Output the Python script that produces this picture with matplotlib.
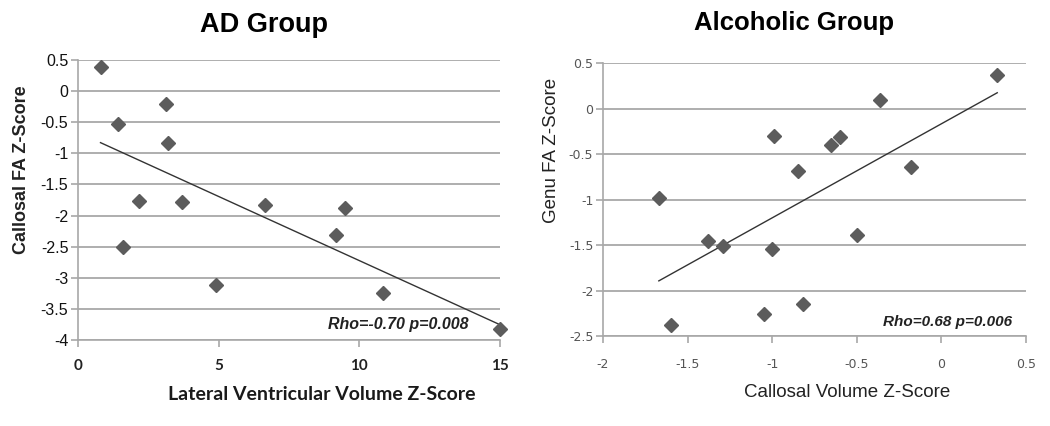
import numpy as np
import matplotlib
matplotlib.use("Agg")
import matplotlib.pyplot as plt

plt.rcParams["font.family"] = ["Liberation Sans", "DejaVu Sans"]

# AD group data
ad_x = [0.8, 1.42, 3.13, 3.2, 2.18, 3.68, 1.59, 4.9, 6.63, 9.5, 9.18, 10.84, 15.0]
ad_y = [0.38, -0.53, -0.21, -0.84, -1.76, -1.79, -2.51, -3.11, -1.83, -1.88, -2.32, -3.24, -3.83]
ad_xticks = [0, 5, 10, 15]
ad_yticks = [0.5, 0, -0.5, -1, -1.5, -2, -2.5, -3, -3.5, -4]

# Alcoholic group data
al_x = [0.33, -0.36, -0.99, -0.60, -0.65, -0.85, -0.18, -1.67, -1.38, -1.29, -1.0, -0.5, -0.82, -1.05, -1.6]
al_y = [0.37, 0.10, -0.30, -0.31, -0.40, -0.69, -0.64, -0.98, -1.45, -1.51, -1.54, -1.39, -2.15, -2.26, -2.38]
al_xticks = [-2, -1.5, -1, -0.5, 0, 0.5]
al_yticks = [0.5, 0, -0.5, -1, -1.5, -2, -2.5]

W, H = 1050, 426
fig = plt.figure(figsize=(10.5, 4.26), dpi=100)
ax1 = fig.add_axes([78 / W, 1 - 340 / H, 422 / W, 280 / H])
ax2 = fig.add_axes([603 / W, 1 - 336 / H, 423 / W, 272.7 / H])

mcol = "#5c5c5c"
gcol = "#a8a8a8"


def fmt(v):
    return "%g" % v


def style(ax, xt, yt):
    for s in ["top", "right"]:
        ax.spines[s].set_visible(False)
    for s in ["left", "bottom"]:
        ax.spines[s].set_color(gcol)
        ax.spines[s].set_linewidth(1.2)
    ax.set_xticks(xt)
    ax.set_yticks(yt)
    ax.tick_params(axis="both", direction="out", length=5, color=gcol, width=1.2)
    for v in yt:
        ax.axhline(v, color=gcol, lw=1.3, zorder=0)


# Left panel
ax1.set_xlim(0, 15)
ax1.set_ylim(-4, 0.5)
style(ax1, ad_xticks, ad_yticks)
ax1.set_xticklabels([fmt(v) for v in ad_xticks], fontsize=11, fontweight="bold",
                    family=["Lato", "DejaVu Sans"], color="#222222")
ax1.set_yticklabels([fmt(v) for v in ad_yticks], fontsize=11.5, color="#111111")
ax1.tick_params(axis="x", pad=9)
ax1.tick_params(axis="y", pad=2)
ax1.plot(ad_x, ad_y, linestyle="none", marker="D", markersize=7.5, color=mcol, zorder=3, clip_on=False)
c1 = np.polyfit(ad_x, ad_y, 1)
xs1 = np.array([min(ad_x), max(ad_x)])
ax1.plot(xs1, np.polyval(c1, xs1), color="#333333", lw=1.0, zorder=2)
ax1.text((468 - 78) / 422, (340 - 325) / 280, "Rho=-0.70 p=0.008", transform=ax1.transAxes,
         ha="right", va="center", fontsize=11.5, fontweight="bold", style="italic", color="#222222")
ax1.set_xlabel("Lateral Ventricular Volume Z-Score", fontsize=14, fontweight="bold",
               family=["Lato", "DejaVu Sans"], color="#1a1a1a")
ax1.xaxis.label.set_va("center")
ax1.xaxis.set_label_coords((322 - 78) / 422, (340 - 395) / 280)
ax1.set_ylabel("Callosal FA Z-Score", fontsize=13, fontweight="bold", color="#222222")
ax1.yaxis.label.set_va("center")
ax1.yaxis.set_label_coords((22 - 78) / 422, (340 - 170) / 280)

# Right panel
ax2.set_xlim(-2, 0.5)
ax2.set_ylim(-2.5, 0.5)
style(ax2, al_xticks, al_yticks)
ax2.set_xticklabels([fmt(v) for v in al_xticks], fontsize=9, family=["DejaVu Sans"], color="#555555")
ax2.set_yticklabels([fmt(v) for v in al_yticks], fontsize=9, family=["DejaVu Sans"], color="#555555")
ax2.tick_params(axis="x", pad=11)
ax2.tick_params(axis="y", pad=2)
ax2.plot(al_x, al_y, linestyle="none", marker="D", markersize=7.5, color=mcol, zorder=3, clip_on=False)
c2 = np.polyfit(al_x, al_y, 1)
xs2 = np.array([min(al_x), max(al_x)])
ax2.plot(xs2, np.polyval(c2, xs2), color="#333333", lw=1.0, zorder=2)
ax2.text((1012 - 603) / 423, (336 - 322) / 272.7, "Rho=0.68 p=0.006", transform=ax2.transAxes,
         ha="right", va="center", fontsize=11, fontweight="bold", style="italic", color="#222222")
ax2.set_xlabel("Callosal Volume Z-Score", fontsize=13.5, color="#222222")
ax2.xaxis.label.set_va("center")
ax2.xaxis.set_label_coords((847 - 603) / 423, (336 - 393) / 272.7)
ax2.set_ylabel("Genu FA Z-Score", fontsize=13.5, color="#222222")
ax2.yaxis.label.set_va("center")
ax2.yaxis.set_label_coords((551 - 603) / 423, (336 - 150) / 272.7)

# Titles
fig.text(264 / W, 1 - 32 / H, "AD Group", ha="center", va="baseline", fontsize=19.5, fontweight="bold")
fig.text(793.5 / W, 1 - 30 / H, "Alcoholic Group", ha="center", va="baseline", fontsize=18.5, fontweight="bold")

fig.savefig("out.png", dpi=100)
